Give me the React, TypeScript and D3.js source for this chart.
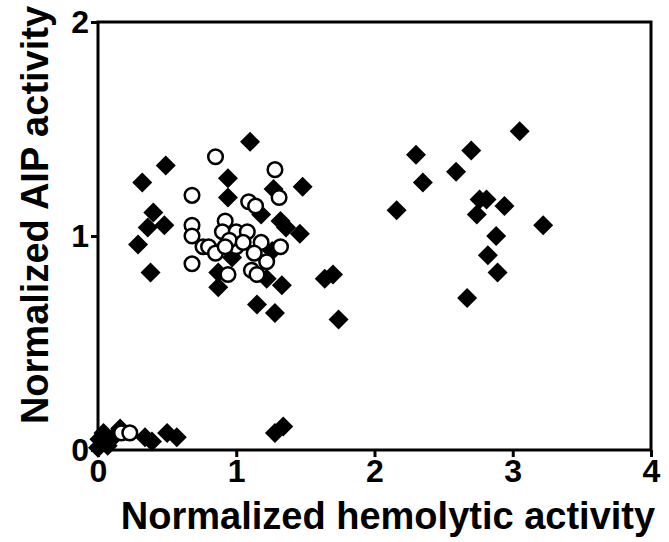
import React, { Component } from 'react';
import * as d3 from 'd3';

// filled diamonds
const diamondX = [
    3.05, 2.70, 2.30, 2.59, 2.35, 2.16, 2.76, 2.81, 2.94, 2.74, 3.22, 2.88, 2.82, 2.89, 2.67,
    1.10, 0.49, 0.32, 0.94, 1.48, 1.27, 0.94, 1.18, 0.40, 0.36, 0.48, 1.32, 1.36, 1.46, 1.26,
    0.29, 0.97, 0.87, 0.87, 0.38, 1.33, 1.22, 1.64, 1.70, 1.15, 1.28, 1.74,
    1.28, 1.34, 0.00, 0.01, 0.04, 0.07, 0.11, 0.16, 0.34, 0.39, 0.50, 0.57
];
const diamondY = [
    1.49, 1.40, 1.38, 1.30, 1.25, 1.12, 1.17, 1.17, 1.14, 1.10, 1.05, 1.00, 0.91, 0.83, 0.71,
    1.44, 1.33, 1.25, 1.27, 1.23, 1.22, 1.18, 1.10, 1.11, 1.04, 1.05, 1.07, 1.04, 1.01, 0.93,
    0.96, 0.90, 0.83, 0.76, 0.83, 0.77, 0.80, 0.80, 0.82, 0.68, 0.64, 0.61,
    0.08, 0.11, 0.01, 0.05, 0.08, 0.02, 0.06, 0.10, 0.06, 0.04, 0.08, 0.06
];

// open circles
const circleX = [
    0.85, 1.28, 0.68, 1.31, 1.09, 1.14, 0.68, 0.68, 0.92, 0.90, 1.00, 1.08, 1.18, 1.32,
    0.76, 0.80, 0.85, 1.00, 1.13, 1.22, 0.68, 1.11, 1.15, 0.94, 0.95, 1.05, 0.92,
    0.17, 0.23
];
const circleY = [
    1.37, 1.31, 1.19, 1.18, 1.16, 1.14, 1.05, 1.00, 1.07, 1.02, 1.02, 1.02, 0.97, 0.95,
    0.95, 0.95, 0.92, 0.95, 0.92, 0.88, 0.87, 0.84, 0.82, 0.82, 0.98, 0.97, 0.95,
    0.08, 0.08
];

const xTicks = [0, 1, 2, 3, 4];
const yTicks = [0, 1, 2];

class App extends Component {
    componentDidMount() {
        document.body.style.margin = '0';
        const width = 669,
            height = 542;
        const margin = { left: 98, right: 18, top: 22, bottom: 92 };
        const font = 'Arial, "Liberation Sans", Helvetica, sans-serif';

        const svg = d3.select('#chart')
            .append('svg')
            .attr('width', width)
            .attr('height', height)
            .style('display', 'block')
            .style('background', '#fff');

        const xScale = d3.scaleLinear()
            .domain([0, 4])
            .range([margin.left, width - margin.right]);
        const yScale = d3.scaleLinear()
            .domain([0, 2])
            .range([height - margin.bottom, margin.top]);

        // frame
        svg.append('rect')
            .attr('x', xScale(0))
            .attr('y', yScale(2))
            .attr('width', xScale(4) - xScale(0))
            .attr('height', yScale(0) - yScale(2))
            .attr('fill', 'none')
            .attr('stroke', '#000')
            .attr('stroke-width', 3);

        // x axis
        const xAxis = svg.append('g')
            .attr('transform', 'translate(0,' + yScale(0) + ')')
            .call(d3.axisBottom(xScale).tickValues(xTicks).tickFormat(d3.format('d')).tickSize(7).tickPadding(2));
        xAxis.select('.domain').remove();
        xAxis.selectAll('line').attr('stroke-width', 3);
        xAxis.selectAll('text')
            .attr('font-family', font)
            .attr('font-weight', 'bold')
            .attr('font-size', 32)
            .attr('fill', '#000');

        // y axis
        const yAxis = svg.append('g')
            .attr('transform', 'translate(' + xScale(0) + ',0)')
            .call(d3.axisLeft(yScale).tickValues(yTicks).tickFormat(d3.format('d')).tickSize(7).tickPadding(2));
        yAxis.select('.domain').remove();
        yAxis.selectAll('line').attr('stroke-width', 3);
        yAxis.selectAll('text')
            .attr('font-family', font)
            .attr('font-weight', 'bold')
            .attr('font-size', 32)
            .attr('fill', '#000');

        // axis titles
        svg.append('text')
            .attr('x', 388)
            .attr('y', 529)
            .attr('text-anchor', 'middle')
            .attr('font-family', font)
            .attr('font-weight', 'bold')
            .attr('font-size', 38)
            .text('Normalized hemolytic activity');

        svg.append('text')
            .attr('transform', 'translate(48,215) rotate(-90)')
            .attr('text-anchor', 'middle')
            .attr('font-family', font)
            .attr('font-weight', 'bold')
            .attr('font-size', 38)
            .text('Normalized AIP activity');

        // diamonds
        const diamond = d3.symbol().type(d3.symbolSquare).size(200);
        svg.append('g')
            .selectAll('path')
            .data(diamondX.map((x, i) => [x, diamondY[i]]))
            .enter()
            .append('path')
            .attr('d', diamond)
            .attr('transform', d => 'translate(' + xScale(d[0]) + ',' + yScale(d[1]) + ') rotate(45)')
            .attr('fill', '#000');

        // circles
        svg.append('g')
            .selectAll('circle')
            .data(circleX.map((x, i) => [x, circleY[i]]))
            .enter()
            .append('circle')
            .attr('cx', d => xScale(d[0]))
            .attr('cy', d => yScale(d[1]))
            .attr('r', 7.3)
            .attr('fill', '#fff')
            .attr('stroke', '#000')
            .attr('stroke-width', 2.5);
    }

    render() {
        return <div id="chart"></div>;
    }
}

export default App;
